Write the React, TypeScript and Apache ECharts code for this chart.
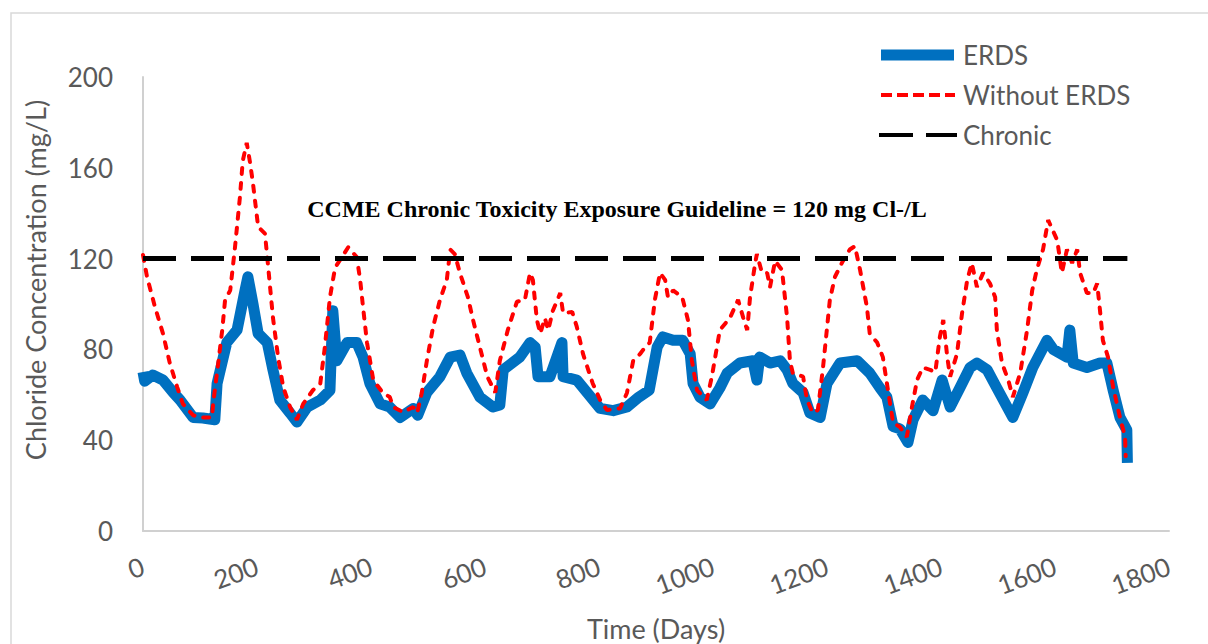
import React, { useEffect, useRef } from "react";
import * as echarts from "echarts";

// Time (days) and chloride concentration (mg/L)
const erdsDays = [0, 3, 17, 35, 53, 65, 88, 105, 126, 130, 147, 165, 179, 184, 193, 202, 218, 228, 240, 258, 270, 288, 311, 328, 333, 340, 358, 375, 386, 398, 416, 433, 451, 474, 482, 498, 521, 539, 556, 568, 591, 614, 626, 632, 661, 679, 688, 693, 714, 735, 737, 761, 779, 802, 825, 849, 870, 888, 902, 912, 930, 947, 960, 965, 977, 995, 1012, 1025, 1047, 1070, 1077, 1082, 1100, 1118, 1130, 1140, 1158, 1170, 1188, 1200, 1223, 1253, 1275, 1293, 1305, 1316, 1328, 1342, 1351, 1368, 1386, 1402, 1416, 1433, 1451, 1463, 1481, 1498, 1526, 1544, 1561, 1586, 1597, 1621, 1626, 1632, 1656, 1679, 1691, 1702, 1714, 1726, 1727];
const erdsValues = [70, 66, 68.7, 66.5, 61, 57.7, 50, 49.8, 49, 65, 83, 88.5, 106, 112, 100, 87, 83, 71, 57.7, 52, 48, 54.6, 57.7, 62, 97, 75, 83, 83, 76.6, 65, 56, 54.6, 50, 54, 51, 61, 68, 76.6, 77.5, 69.6, 59, 54.6, 55.5, 71, 76.6, 83, 81, 68, 68, 83, 68, 66.5, 61, 54, 53, 54.6, 59, 62, 81, 85.5, 84, 84, 78, 65, 59, 56, 63, 69.6, 74, 75, 66.5, 76.6, 74, 75, 71, 65, 61, 52, 50, 65, 74, 75, 69.6, 63, 59, 46, 45, 39, 49, 57.7, 53, 66.5, 54.6, 63, 72, 74, 71, 63, 50, 61, 72, 84, 80, 76.6, 88.5, 74, 72, 74, 74, 62, 50, 44.5, 30];

const noErdsDays = [0, 7, 21, 35, 47, 60, 70, 88, 100, 121, 123, 132, 139, 144, 153, 161, 170, 175, 182, 188, 193, 202, 214, 219, 228, 237, 246, 258, 270, 281, 298, 311, 319, 328, 337, 349, 360, 375, 381, 386, 393, 404, 421, 433, 439, 456, 474, 481, 489, 498, 509, 521, 533, 539, 547, 556, 570, 579, 591, 604, 618, 626, 640, 656, 670, 679, 684, 691, 697, 705, 711, 719, 732, 737, 753, 761, 772, 789, 802, 814, 837, 849, 860, 872, 877, 889, 898, 907, 916, 921, 930, 946, 956, 963, 972, 989, 998, 1012, 1030, 1044, 1053, 1060, 1065, 1074, 1077, 1086, 1095, 1100, 1109, 1121, 1130, 1135, 1140, 1158, 1165, 1175, 1184, 1193, 1205, 1214, 1228, 1240, 1249, 1258, 1270, 1275, 1288, 1298, 1307, 1316, 1328, 1340, 1349, 1358, 1368, 1381, 1390, 1398, 1404, 1411, 1416, 1428, 1437, 1446, 1454, 1463, 1474, 1486, 1495, 1498, 1507, 1518, 1526, 1539, 1551, 1560, 1568, 1579, 1588, 1604, 1612, 1621, 1630, 1639, 1644, 1656, 1667, 1674, 1679, 1684, 1693, 1702, 1714, 1723, 1724];
const noErdsValues = [121.6, 112, 98.7, 87, 74, 63.4, 56, 51, 50, 50, 56, 74, 88.5, 101.8, 106, 124, 147, 163, 171, 162, 153, 134, 131, 118, 94, 76.6, 63.4, 54.6, 49, 56, 62, 65, 81, 103, 116, 120.7, 125, 120.7, 110.6, 98.7, 83, 66.5, 60.8, 59, 54.6, 52.4, 54.6, 52, 60.8, 75, 90, 101.8, 110.6, 124, 122, 113.7, 103, 93, 81, 68, 61, 75, 88.5, 101, 101.8, 113.7, 110.6, 93, 87, 93.8, 88.5, 97, 104.8, 96, 96.5, 90, 78, 65, 57.7, 53.3, 54, 60.8, 75, 78, 79.7, 83, 101.8, 113.7, 110.6, 103, 106, 103, 93, 75, 62, 57.7, 68, 88.5, 94, 101.8, 94, 88.5, 103, 118, 122, 113.7, 113.7, 107.5, 119, 115, 94, 75, 69.6, 68, 57.7, 52, 53.3, 72, 101.8, 112, 119, 124, 125.5, 115, 98.7, 87, 83, 76.6, 62, 47.6, 45.8, 41.4, 54.6, 66.5, 72, 71, 70, 85.5, 93, 76.6, 68, 78, 96, 110.6, 118, 107.5, 113.7, 109, 103, 88.5, 74, 66.5, 59, 69.6, 88.5, 106, 115, 124, 137, 128, 113.7, 124, 118, 124, 113.7, 104.8, 104.8, 109, 97, 84, 76.6, 63.4, 50, 41.4, 33];

const chronicDays = [0, 1727];
const chronicValues = [120, 120];

const xTicks = { min: 0, max: 1800, interval: 200 };
const yTicks = { min: 0, max: 200, interval: 40 };

const seriesNames = ["ERDS", "Without ERDS", "Chronic"];
const annotation = "CCME Chronic Toxicity Exposure Guideline = 120 mg Cl-/L";
const xTitle = "Time (Days)";
const yTitle = "Chloride Concentration (mg/L)";

const pair = (xs: number[], ys: number[]) => xs.map((x, i) => [x, ys[i]]);

export default function App() {
  const ref = useRef<HTMLDivElement>(null);
  useEffect(() => {
    document.body.style.margin = "0";
    const chart = echarts.init(ref.current!, undefined, { renderer: "svg" });
    const font = "Lato, 'Open Sans', sans-serif";
    const grey = "#595959";
    chart.setOption({
      animation: false,
      backgroundColor: "#ffffff",
      grid: { left: 143, right: 39, top: 77, bottom: 113, containLabel: false },
      xAxis: {
        type: "value",
        min: xTicks.min,
        max: xTicks.max,
        interval: xTicks.interval,
        axisLine: { show: true, lineStyle: { color: "#d0d0d0", width: 2 } },
        axisTick: { show: false },
        splitLine: { show: false },
        axisLabel: {
          rotate: 20,
          margin: 34,
          fontSize: 26,
          color: grey,
          fontFamily: font,
          formatter: (v: number) => String(v),
        },
      },
      yAxis: {
        type: "value",
        min: yTicks.min,
        max: yTicks.max,
        interval: yTicks.interval,
        axisLine: { show: true, lineStyle: { color: "#d0d0d0", width: 2 } },
        axisTick: { show: false },
        splitLine: { show: false },
        axisLabel: { margin: 30, fontSize: 26, color: grey, fontFamily: font, formatter: (v: number) => String(v) },
      },
      series: [
        {
          name: seriesNames[0],
          type: "line",
          data: pair(erdsDays, erdsValues),
          showSymbol: false,
          symbol: "none",
          lineStyle: { color: "#0070C0", width: 11, join: "round" },
          z: 2,
        },
        {
          name: seriesNames[1],
          type: "line",
          data: pair(noErdsDays, noErdsValues),
          showSymbol: false,
          symbol: "none",
          lineStyle: { color: "#FF0000", width: 4, type: [6, 9], cap: "round" },
          z: 3,
        },
        {
          name: seriesNames[2],
          type: "line",
          data: pair(chronicDays, chronicValues),
          showSymbol: false,
          symbol: "none",
          lineStyle: { color: "#000000", width: 5, type: [33, 15] },
          z: 4,
        },
      ],
      graphic: [
        {
          type: "rect",
          shape: { x: 11, y: 13, width: 1220, height: 660 },
          style: { fill: "none", stroke: "#d9d9d9", lineWidth: 1.5 },
          silent: true,
        },
        {
          type: "text",
          x: 35,
          y: 280,
          rotation: Math.PI / 2,
          style: { text: yTitle, fontSize: 27, fill: grey, fontFamily: font, align: "center", verticalAlign: "middle" },
        },
        {
          type: "text",
          x: 656,
          y: 628,
          style: { text: xTitle, fontSize: 27, fill: grey, fontFamily: font, align: "center", verticalAlign: "middle" },
        },
        {
          type: "text",
          x: 617,
          y: 209,
          style: {
            text: annotation,
            fontSize: 24,
            fontWeight: "bold",
            fill: "#000000",
            fontFamily: "'Liberation Serif', 'Times New Roman', serif",
            align: "center",
            verticalAlign: "middle",
          },
        },
        // legend
        {
          type: "line",
          shape: { x1: 881, y1: 55, x2: 954, y2: 55 },
          style: { stroke: "#0070C0", lineWidth: 11 },
        },
        {
          type: "text",
          x: 963,
          y: 55,
          style: { text: seriesNames[0], fontSize: 26, fill: grey, fontFamily: font, verticalAlign: "middle" },
        },
        {
          type: "line",
          shape: { x1: 881, y1: 95, x2: 955, y2: 95 },
          style: { stroke: "#FF0000", lineWidth: 4, lineDash: [11, 5] },
        },
        {
          type: "text",
          x: 963,
          y: 95,
          style: { text: seriesNames[1], fontSize: 26, fill: grey, fontFamily: font, verticalAlign: "middle" },
        },
        {
          type: "line",
          shape: { x1: 879, y1: 135, x2: 957, y2: 135 },
          style: { stroke: "#000000", lineWidth: 4, lineDash: [34, 13] },
        },
        {
          type: "text",
          x: 963,
          y: 135,
          style: { text: seriesNames[2], fontSize: 26, fill: grey, fontFamily: font, verticalAlign: "middle" },
        },
      ],
    });
    return () => chart.dispose();
  }, []);
  return <div ref={ref} style={{ width: 1208, height: 644 }} />;
}
